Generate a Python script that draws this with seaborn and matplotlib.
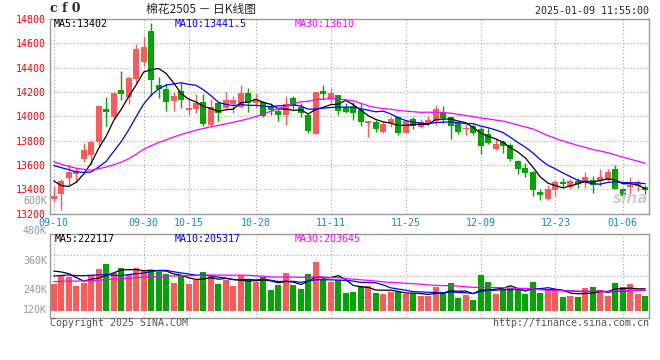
import numpy as np
import pandas as pd
import matplotlib
matplotlib.use('Agg')
import matplotlib.pyplot as plt
import seaborn as sns

# daily candles, 2024-09-10 .. 2025-01-09 (80 trading days)
opens = [13323, 13362, 13495, 13523, 13645, 13680, 13790, 14063, 13990, 14213,
         14162, 14305, 14450, 14702, 14259, 14224, 14126, 14205, 14050, 14058,
         14121, 13927, 14105, 14064, 14099, 14077, 14195, 14110, 14118, 14077,
         14045, 14009, 14154, 14077, 14009, 13854, 14205, 14140, 14173, 14072,
         14072, 14055, 13946, 13954, 13873, 13941, 13990, 13864, 13974, 13914,
         13941, 13963, 14023, 13990, 13941, 13895, 13919, 13892, 13854, 13731,
         13791, 13763, 13633, 13578, 13545, 13375, 13320, 13392, 13458, 13422,
         13471, 13450, 13476, 13471, 13476, 13565, 13403, 13417, 13425, 13422]
highs = [13427, 13485, 13604, 13580, 13780, 13803, 14085, 14155, 14198, 14376,
         14335, 14594, 14660, 14763, 14320, 14265, 14200, 14274, 14154, 14186,
         14186, 14145, 14118, 14200, 14165, 14255, 14235, 14192, 14124, 14110,
         14077, 14165, 14170, 14110, 14023, 14203, 14255, 14235, 14175, 14110,
         14118, 14105, 13962, 13968, 13963, 13995, 14000, 13968, 13995, 13974,
         14001, 14096, 14083, 13995, 13955, 13933, 13933, 13914, 13900, 13810,
         13805, 13777, 13640, 13613, 13548, 13402, 13433, 13476, 13495, 13485,
         13495, 13540, 13510, 13564, 13570, 13597, 13410, 13504, 13476, 13436]
lows = [13297, 13231, 13432, 13463, 13623, 13600, 13750, 13920, 13980, 14130,
        14100, 14270, 14415, 14170, 14147, 14046, 14045, 14069, 14009, 14023,
        13922, 13922, 13963, 14050, 14023, 14064, 14036, 14064, 13990, 14014,
        13963, 13927, 14060, 13990, 13864, 13850, 14137, 14110, 14009, 14030,
        13968, 13919, 13832, 13873, 13859, 13914, 13845, 13860, 13892, 13900,
        13919, 13927, 13941, 13810, 13854, 13845, 13845, 13690, 13769, 13723,
        13701, 13633, 13526, 13499, 13340, 13315, 13315, 13345, 13409, 13405,
        13410, 13410, 13367, 13430, 13470, 13400, 13325, 13354, 13381, 13360]
closes = [13340, 13471, 13539, 13553, 13720, 13787, 14082, 14035, 14195, 14180,
          14312, 14557, 14572, 14298, 14224, 14115, 14167, 14137, 14064, 14105,
          13935, 14072, 14023, 14132, 14132, 14195, 14105, 14137, 14001, 14050,
          14009, 14099, 14083, 14023, 13881, 14200, 14181, 14192, 14042, 14036,
          14028, 13954, 13960, 13892, 13935, 13974, 13864, 13960, 13919, 13954,
          13968, 14058, 13987, 13919, 13873, 13899, 13864, 13755, 13783, 13772,
          13755, 13649, 13567, 13537, 13395, 13352, 13400, 13463, 13446, 13471,
          13444, 13504, 13432, 13504, 13542, 13405, 13340, 13436, 13450, 13390]
# volume in thousand lots
volumes = [271, 352, 345, 251, 284, 359, 423, 474, 379, 433,
           372, 433, 413, 406, 396, 372, 281, 352, 271, 312,
           393, 352, 271, 312, 251, 359, 312, 295, 339, 210,
           261, 383, 261, 217, 372, 494, 312, 288, 312, 179,
           190, 251, 251, 179, 169, 193, 190, 169, 169, 149,
           149, 240, 190, 281, 129, 159, 108, 362, 295, 169,
           210, 230, 223, 169, 291, 179, 210, 217, 142, 149,
           139, 230, 240, 210, 149, 281, 240, 271, 169, 149]

# closes / volumes before 09-10 (estimated from where the MA lines start)
prior_close = [14100, 14060, 14020, 14000, 13990, 13700, 13650, 13600, 13560, 13480,
               13420, 13380, 13400, 13430, 13450, 13480, 13500, 13550, 13560, 13500,
               13650, 13700, 13740, 13760, 13760, 13661, 13579, 13380, 13380]
prior_volume = [250, 240, 280, 260, 300, 230, 250, 270, 290, 260,
                240, 280, 300, 250, 270, 260, 280, 250, 270, 300,
                290, 300, 310, 295, 310, 400, 430, 450, 464]

tick_pos = [0, 12, 18, 27, 37, 47, 57, 67, 76]
tick_labels = ['09-10', '09-30', '10-15', '10-28', '11-11', '11-25', '12-09', '12-23', '01-06']
price_ticks = [13200, 13400, 13600, 13800, 14000, 14200, 14400, 14600, 14800]

df = pd.DataFrame({'open': opens, 'high': highs, 'low': lows, 'close': closes, 'vol': volumes})
df['x'] = np.arange(len(df))
n_prior = len(prior_close)
all_close = pd.Series(prior_close + closes)
all_vol = pd.Series(prior_volume + volumes)
for w in (5, 10, 30):
    df['ma%d' % w] = all_close.rolling(w).mean().iloc[n_prior:].values
    df['vma%d' % w] = all_vol.rolling(w).mean().iloc[n_prior:].values

sns.set_style('white')
plt.rcParams['font.family'] = ['DejaVu Sans Mono', 'Noto Sans CJK SC']

RED = '#ff5a5a'
GREEN = '#00a600'
GRID = '#a8a8a8'
W, H = 660, 360

fig = plt.figure(figsize=(6.6, 3.6), dpi=100)
ax = fig.add_axes([50 / W, 1 - 213.5 / H, 599 / W, 194.5 / H])
axv = fig.add_axes([50 / W, 1 - 318 / H, 599 / W, 84 / H])

up = df['close'] >= df['open']
colors = np.where(up, RED, GREEN)

# candles
ax.vlines(df['x'], df['low'], df['high'], colors=colors, linewidth=1)
body_lo = df[['open', 'close']].min(axis=1)
body_h = (df['close'] - df['open']).abs().clip(lower=8)
ax.bar(df['x'], body_h, bottom=body_lo, width=0.8, color=colors, linewidth=0)

sns.lineplot(data=df, x='x', y='ma5', color='black', linewidth=0.9, ax=ax)
sns.lineplot(data=df, x='x', y='ma10', color='#0000ff', linewidth=0.9, ax=ax)
sns.lineplot(data=df, x='x', y='ma30', color='#ff00ff', linewidth=0.9, ax=ax)

ax.set_xlim(-0.5, len(df) - 0.5)
ax.set_ylim(13200, 14800)
ax.set_yticks(price_ticks)
ax.set_yticklabels([str(v) for v in price_ticks])
ax.set_xticks(tick_pos)
ax.set_xticklabels(tick_labels)
ax.tick_params(axis='y', length=0, pad=3, labelsize=7.2, labelcolor='#ff0000')
ax.tick_params(axis='x', length=0, pad=3, labelsize=7.2, labelcolor='#1a86d0')
ax.set_xlabel('')
ax.set_ylabel('')

# volume
vol = df['vol'] * 1000
axv.bar(df['x'], vol, width=0.8, color=colors, linewidth=0)
sns.lineplot(x=df['x'], y=df['vma5'] * 1000, color='black', linewidth=0.9, ax=axv)
sns.lineplot(x=df['x'], y=df['vma10'] * 1000, color='#0000ff', linewidth=0.9, ax=axv)
sns.lineplot(x=df['x'], y=df['vma30'] * 1000, color='#ff00ff', linewidth=0.9, ax=axv)
vlo, vhi = -74000, 779000
axv.set_xlim(-0.5, len(df) - 0.5)
axv.set_ylim(vlo, vhi)
axv.set_yticks([vlo + (vhi - vlo) * f for f in (0.25, 0.5, 0.75)])
axv.set_yticklabels([])
axv.set_xticks(tick_pos)
axv.set_xticklabels([])
axv.tick_params(length=0)
axv.set_xlabel('')
axv.set_ylabel('')

for a in (ax, axv):
    a.grid(True, color=GRID, linestyle=(0, (1, 2)), linewidth=0.8)
    for s in a.spines.values():
        s.set_color('#9a9a9a')
        s.set_linewidth(1)

def ftext(x, y, s, **kw):
    fig.text(x / W, 1 - y / H, s, va='center', **kw)

mono = dict(family=['DejaVu Sans Mono'], size=7.2)
ftext(50, 9, 'c f 0', family=['DejaVu Serif'], fontweight='bold', size=9)
ftext(201, 9, '棉花2505 － 日K线图', ha='center', size=8.5,
      family=['Noto Sans CJK SC', 'DejaVu Sans'])
ftext(649, 11.5, '2025-01-09 11:55:00', ha='right', **mono)

ftext(54, 24, 'MA5:13402', color='black', **mono)
ftext(175, 24, 'MA10:13441.5', color='#0000ff', **mono)
ftext(295, 24, 'MA30:13610', color='#ff00ff', **mono)

ftext(55, 238.5, 'MA5:222117', color='black', **mono)
ftext(175, 238.5, 'MA10:205317', color='#0000ff', **mono)
ftext(295, 238.5, 'MA30:203645', color='#ff00ff', **mono)

for lab, y in [('600K', 201), ('480K', 231), ('360K', 261), ('240K', 290), ('120K', 310)]:
    ftext(47, y, lab, ha='right', color='#999999', **mono)

ftext(648, 198, 'sina', ha='right', color='#d0d0d0', size=11, fontweight='bold',
      style='italic', family=['DejaVu Sans'])

ftext(50, 323.5, 'Copyright 2025 SINA.COM', color='#555555', **mono)
ftext(649, 323.5, 'http://finance.sina.com.cn', ha='right', color='#555555', **mono)

fig.savefig('out.png', dpi=100, facecolor='white')
